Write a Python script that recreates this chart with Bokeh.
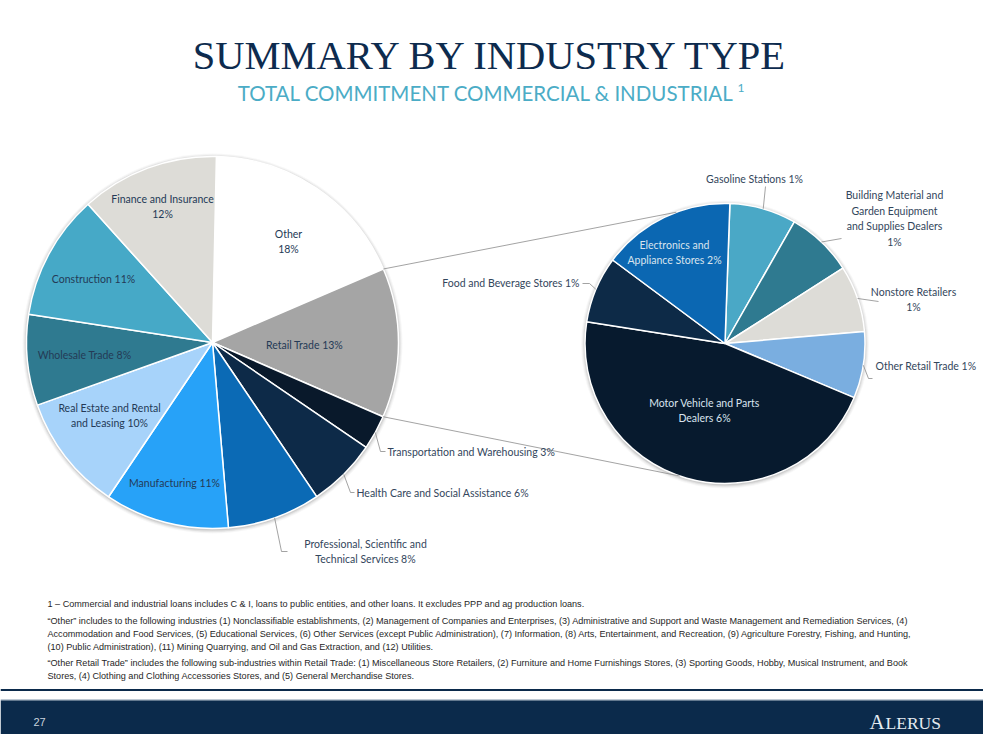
import numpy as np
from bokeh.plotting import figure
from bokeh.models import Range1d, ColumnDataSource
from bokeh.embed import file_html
from bokeh.resources import INLINE
from bokeh.core.properties import value

# ---------------- data ----------------
industries = ["Other", "Retail Trade", "Transportation and Warehousing",
              "Health Care and Social Assistance",
              "Professional, Scientific and Technical Services", "Manufacturing",
              "Real Estate and Rental and Leasing", "Wholesale Trade",
              "Construction", "Finance and Insurance"]
industry_share = [18.2, 13.0, 3.0, 6.0, 8.1, 10.8, 10.1, 7.9, 10.9, 12.0]
industry_pct = ["18%", "13%", "3%", "6%", "8%", "11%", "10%", "8%", "11%", "12%"]

retail_subs = ["Gasoline Stations",
               "Building Material and Garden Equipment and Supplies Dealers",
               "Nonstore Retailers", "Other Retail Trade",
               "Motor Vehicle and Parts Dealers", "Food and Beverage Stores",
               "Electronics and Appliance Stores"]
retail_share = [1.0, 1.0, 1.0, 1.0, 6.0, 1.0, 2.0]
retail_pct = ["1%", "1%", "1%", "1%", "6%", "1%", "2%"]

footnotes = [
    "1 \u2013 Commercial and industrial loans includes C & I, loans to public entities, and other loans. It excludes PPP and ag production loans.",
    "\u201cOther\u201d includes to the following industries (1) Nonclassifiable establishments, (2) Management of Companies and Enterprises, (3) Administrative and Support and Waste Management and Remediation Services, (4)",
    "Accommodation and Food Services, (5) Educational Services, (6) Other Services (except Public Administration), (7) Information, (8) Arts, Entertainment, and Recreation, (9) Agriculture Forestry, Fishing, and Hunting,",
    "(10) Public Administration), (11) Mining Quarrying, and Oil and Gas Extraction, and (12) Utilities.",
    "\u201cOther Retail Trade\u201d includes the following sub-industries within Retail Trade: (1) Miscellaneous Store Retailers, (2) Furniture and Home Furnishings Stores, (3) Sporting Goods, Hobby, Musical Instrument, and Book",
    "Stores, (4) Clothing and Clothing Accessories Stores, and (5) General Merchandise Stores.",
]

# ---------------- styles / layout ----------------
industry_colors = ["#FFFFFF", "#A5A5A5", "#09192B", "#0D2A48", "#0B6AB5",
                   "#27A2F8", "#A7D3FA", "#2F7A90", "#46A9C7", "#DDDCD7"]
retail_colors = ["#4AA8C6", "#2F7A90", "#DDDCD7", "#7AAEE0", "#071A2E",
                 "#0D2A47", "#0B67B2"]

W, H = 983, 734


def Y(v):
    return 750 - v


p = figure(width=W, height=H, x_range=Range1d(8, 991), y_range=Range1d(8, 742),
           output_backend="svg", toolbar_location=None,
           x_axis_location=None, y_axis_location=None, min_border=0)
p.grid.visible = False
p.outline_line_color = None
p.background_fill_color = "white"
p.border_fill_color = "white"

LBL = "#243A56"
OUT = "#33465C"
LIGHT = "#D9E4EE"
LEAD = "#8C8C8C"


def txt(x, y, s, size=10.5, color=LBL, align="center", baseline="middle",
        font="Lato", lh=1.33):
    p.text(x=[x], y=[Y(y)], text=[s], text_font=value(font),
           text_font_size=f"{size}px", text_color=color, text_align=align,
           text_baseline=baseline, text_line_height=lh)


def wrap(name, pct, counts):
    words = (name + " " + pct).split(" ")
    lines, i = [], 0
    for c in counts:
        lines.append(" ".join(words[i:i + c]))
        i += c
    return "\n".join(lines)


def pie(vals, colors, cx, cy, r, offset):
    tot = float(sum(vals))
    cum = np.concatenate([[0.0], np.cumsum(vals)]) / tot * 360.0 + offset
    a0, a1 = cum[:-1], cum[1:]
    # soft shadow
    for dr, al in [(4, 0.03), (3, 0.04), (2, 0.06), (1, 0.08)]:
        p.circle(x=[cx], y=[Y(cy + 1)], radius=r + dr, fill_color="black",
                 fill_alpha=al, line_color=None)
    src = ColumnDataSource(dict(s=np.radians(90 - a1), e=np.radians(90 - a0),
                                c=colors))
    p.wedge(x=cx, y=Y(cy), radius=r, start_angle="s", end_angle="e",
            fill_color="c", line_color="white", line_width=1.5, source=src)
    return cum


def pt(cx, cy, r, a):
    ar = np.radians(a)
    return cx + r * np.sin(ar), cy - r * np.cos(ar)


def lead(pts):
    p.line([q[0] for q in pts], [Y(q[1]) for q in pts], line_color=LEAD,
           line_width=0.8)


# ---------------- left pie ----------------
LCX, LCY, LR = 220, 350, 186
lc = pie(industry_share, industry_colors, LCX, LCY, LR, 1.2)
lmid = (lc[:-1] + lc[1:]) / 2

# ---------------- right pie ----------------
RCX, RCY, RR = 732.5, 351, 140
rc = pie(retail_share, retail_colors, RCX, RCY, RR, 2.0)
rmid = (rc[:-1] + rc[1:]) / 2

# connectors between pies
s1 = pt(LCX, LCY, LR, lc[1])
s2 = pt(LCX, LCY, LR, lc[2])
e1 = pt(RCX, RCY, RR, 339.7)
e2 = pt(RCX, RCY, RR, 198.8)
lead([s1, e1])
lead([s2, e2])

# left labels
left_layout = [  # (x, y, align, wrap counts, color)
    (296, 249, "center", [1, 1], LBL),
    (312, 352, "center", None, LBL),
    (395, 459, "left", None, OUT),
    (364, 500, "left", None, OUT),
    (373, 559, "center", [3, 3], OUT),
    (182, 490, "center", None, LBL),
    (117, 423, "center", [4, 3], LBL),
    (92, 362, "center", None, LBL),
    (101, 286, "center", None, LBL),
    (170, 214, "center", [3, 1], LBL),
]
for name, pc, (x, y, al, wc, col) in zip(industries, industry_pct, left_layout):
    s = wrap(name, pc, wc) if wc else name + " " + pc
    txt(x, y, s, align=al, color=col)

# left leaders
e = pt(LCX, LCY, LR, lmid[2]); lead([e, (388, 459), (393, 459)])
e = pt(LCX, LCY, LR, lmid[3]); lead([e, (358, 500), (362, 500)])
e = pt(LCX, LCY, LR, lmid[4]); lead([e, (289, 559), (295, 559)])

# right labels
right_layout = [
    (762, 186, "center", None, OUT),
    (902, 226, "center", [3, 2, 3, 1], OUT),
    (921, 307, "center", [2, 1], OUT),
    (883, 373, "left", None, OUT),
    (712, 418, "center", [4, 2], LIGHT),
    (587, 290, "right", None, OUT),
    (682, 260, "center", [2, 3], LIGHT),
]
for name, pc, (x, y, al, wc, col) in zip(retail_subs, retail_pct, right_layout):
    s = wrap(name, pc, wc) if wc else name + " " + pc
    txt(x, y, s, align=al, color=col)

e = pt(RCX, RCY, RR, rmid[0]); lead([e, (773, 194)])
e = pt(RCX, RCY, RR, rmid[1]); lead([e, (849, 246)])
e = pt(RCX, RCY, RR, rmid[2]); lead([e, (886, 309)])
e = pt(RCX, RCY, RR, rmid[3]); lead([e, (876, 386), (880, 386)])
e = pt(RCX, RCY, RR, rmid[5]); lead([e, (597, 291), (590, 291)])

# ---------------- titles ----------------
txt(499, 63, "SUMMARY BY INDUSTRY TYPE", size=40.5, color="#0D2B4E",
    font="Liberation Serif")
txt(742, 100, "TOTAL COMMITMENT COMMERCIAL & INDUSTRIAL", size=20.5,
    color="#4BACC6", align="right", font="Lato")
txt(745, 95, "1", size=12, color="#4BACC6", align="left", font="Lato")

# ---------------- footnotes ----------------
fy = [611, 628, 641, 654, 670, 683]
for yy, line in zip(fy, footnotes):
    txt(55, yy, line, size=9.1, color="#262626", align="left",
        font="Liberation Sans")

# ---------------- footer ----------------
p.quad(left=[8], right=[991], top=[Y(696.5)], bottom=[Y(698.5)],
       fill_color="#0B2A4B", line_color=None)
p.quad(left=[8], right=[991], top=[Y(707)], bottom=[Y(708)],
       fill_color="#7E93AA", line_color=None)
p.quad(left=[8], right=[991], top=[Y(708)], bottom=[Y(745)],
       fill_color="#0B2A4B", line_color=None)
txt(47, 729, "27", size=11, color="#C9D3DD", font="Liberation Sans")
txt(877, 729, "A", size=21, color="#E4EBF1", align="left",
    font="Liberation Serif")
txt(893, 730.5, "LERUS", size=17.5, color="#E4EBF1", align="left",
    font="Liberation Serif")

open("out.html", "w").write(file_html(p, INLINE))
